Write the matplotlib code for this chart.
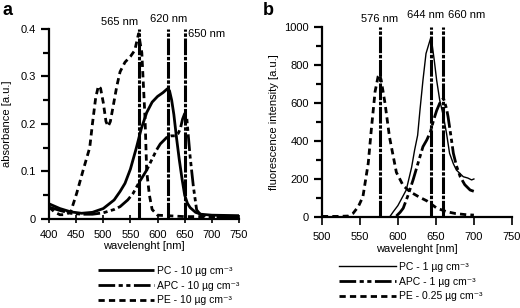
import numpy as np
import matplotlib
matplotlib.use("Agg")
import matplotlib.pyplot as plt
from matplotlib.ticker import MultipleLocator

plt.rcParams["font.family"] = ["Liberation Sans", "DejaVu Sans"]
plt.rcParams["font.size"] = 8
plt.rcParams["lines.scale_dashes"] = False

# =========================
# 数据：吸收光谱 (a)
# =========================
abs_pc_nm = [400, 410, 420, 440, 460, 480, 500, 520, 531, 540, 550, 561, 570, 580, 590,
             600, 610, 618, 622, 626, 630, 635, 640, 645, 650, 655, 660, 670, 680, 700, 750]
abs_pc = [0.032, 0.027, 0.022, 0.015, 0.012, 0.014, 0.022, 0.04, 0.058, 0.075, 0.105, 0.15,
          0.19, 0.224, 0.246, 0.258, 0.266, 0.274, 0.27, 0.25, 0.22, 0.17, 0.125, 0.085,
          0.05, 0.033, 0.024, 0.014, 0.01, 0.008, 0.007]

abs_apc_nm = [400, 420, 440, 460, 480, 500, 520, 531, 545, 555, 565, 580, 592, 598, 605, 612,
              618, 625, 632, 638, 642, 646, 650, 654, 660, 666, 672, 680, 700, 750]
abs_apc = [0.025, 0.018, 0.012, 0.01, 0.01, 0.013, 0.02, 0.026, 0.04, 0.054, 0.075, 0.103,
           0.131, 0.145, 0.158, 0.166, 0.173, 0.175, 0.175, 0.18, 0.19, 0.21, 0.222, 0.21,
           0.131, 0.068, 0.019, 0.008, 0.005, 0.005]

abs_pe_nm = [400, 410, 420, 430, 440, 451, 463, 475, 480, 486, 491, 495, 500, 505, 509, 513,
             518, 525, 531, 540, 550, 558, 562, 565, 568, 571, 574, 577, 580, 585, 590, 600,
             650, 750]
abs_pe = [0.025, 0.015, 0.009, 0.009, 0.015, 0.054, 0.103, 0.15, 0.2, 0.255, 0.28, 0.275,
          0.245, 0.205, 0.195, 0.205, 0.236, 0.28, 0.31, 0.33, 0.342, 0.355, 0.375, 0.39,
          0.37, 0.35, 0.28, 0.21, 0.1, 0.05, 0.02, 0.008, 0.005, 0.005]

abs_peaks = [565, 620, 650]

# =========================
# 数据：荧光光谱 (b)
# =========================
fl_pc_nm = [590, 594, 600, 611, 618, 622, 626, 629, 633, 637, 640, 643, 645, 648, 651, 655,
            660, 664, 668, 673, 677, 686, 692, 697, 700]
fl_pc = [5, 28, 60, 142, 260, 352, 430, 560, 720, 860, 900, 940, 910, 820, 720, 616,
         528, 440, 335, 280, 247, 212, 205, 195, 200]

fl_apc_nm = [598, 603, 607, 613, 620, 627, 633, 638, 643, 647, 651, 655, 660, 664, 666, 670,
             673, 677, 682, 688, 695, 700]
fl_apc = [5, 25, 46, 110, 195, 290, 370, 405, 450, 510, 560, 598, 625, 570, 528, 420,
          335, 270, 212, 170, 142, 135]

fl_pe_nm = [500, 520, 535, 541, 548, 554, 561, 565, 570, 574, 576, 578, 583, 589, 598, 607,
            616, 628, 638, 651, 664, 676, 690, 700]
fl_pe = [3, 3, 5, 19, 55, 107, 283, 458, 660, 740, 750, 720, 600, 420, 235, 165,
         133, 105, 85, 47, 28, 18, 12, 10]

fl_peaks = [576, 644, 660]

unit = " µg cm⁻³"
legend_a = ["PC - 10" + unit, "APC - 10" + unit, "PE - 10" + unit]
legend_b = ["PC - 1" + unit, "APC - 1" + unit, "PE - 0.25" + unit]

# 线型
APC_DASH = (12, 2.5, 3, 2.5, 3, 2.5)
PE_DASH = (4.5, 3)
PEAK_DASH = (12, 1.2, 2.5, 1.2)

fig = plt.figure(figsize=(5.2, 3.08), dpi=100)
ax_a = fig.add_axes([0.0942, 0.289, 0.3654, 0.617])
ax_b = fig.add_axes([0.619, 0.2955, 0.3654, 0.617])


def style_axes(ax, xdir):
    for s in ["top", "right"]:
        ax.spines[s].set_visible(False)
    ax.spines["left"].set_linewidth(1.6)
    ax.spines["bottom"].set_linewidth(1.6)
    ax.tick_params(axis="y", which="major", direction="out", length=6, width=1.6)
    ax.tick_params(axis="y", which="minor", direction="out", length=4, width=1.6)
    ax.tick_params(axis="x", which="major", direction=xdir, length=6, width=1.2)
    ax.tick_params(labelsize=8)
    ax.tick_params(axis="x", pad=5)


def add_legend(ax, x0, y0):
    ax.legend(loc="upper left", bbox_to_anchor=(x0, y0), frameon=False,
              handlelength=5.4, handletextpad=0.3, labelspacing=0.45, borderpad=0,
              fontsize=7.5)


# =========================
# 图 a
# =========================
ax = ax_a
ax.plot(abs_pc_nm, abs_pc, color="black", lw=2, solid_capstyle="butt", label=legend_a[0])
ax.plot(abs_apc_nm, abs_apc, color="black", lw=2, dashes=APC_DASH, label=legend_a[1])
ax.plot(abs_pe_nm, abs_pe, color="black", lw=2, dashes=PE_DASH, label=legend_a[2])
ax.vlines(abs_peaks, 0, 0.4, color="black", lw=2.2, linestyles=[(0, PEAK_DASH)])
ax.set_xlim(400, 750)
ax.set_ylim(0, 0.4)
ax.xaxis.set_major_locator(MultipleLocator(50))
ax.yaxis.set_minor_locator(MultipleLocator(0.05))
ax.set_yticks([0, 0.1, 0.2, 0.3, 0.4], ["0", "0.1", "0.2", "0.3", "0.4"])
style_axes(ax, "inout")
ax.set_xlabel("wavelenght [nm]", labelpad=1)
ax.set_ylabel("absorbance [a.u.]", labelpad=6)
ax.text(565, 0.405, "565 nm", ha="right", va="bottom", fontsize=8)
ax.text(620, 0.41, "620 nm", ha="center", va="bottom", fontsize=8)
ax.text(656, 0.39, "650 nm", ha="left", va="center", fontsize=8)
add_legend(ax, 0.23, -0.22)
fig.text(0.004, 0.995, "a", fontsize=13, fontweight="bold", va="top", ha="left")

# =========================
# 图 b
# =========================
ax = ax_b
ax.plot(fl_pc_nm, fl_pc, color="black", lw=1, label=legend_b[0])
ax.plot(fl_apc_nm, fl_apc, color="black", lw=2, dashes=APC_DASH, label=legend_b[1])
ax.plot(fl_pe_nm, fl_pe, color="black", lw=2, dashes=PE_DASH, label=legend_b[2])
ax.vlines(fl_peaks, 0, 1000, color="black", lw=2.2, linestyles=[(0, PEAK_DASH)])
ax.set_xlim(500, 750)
ax.set_ylim(0, 1000)
ax.xaxis.set_major_locator(MultipleLocator(50))
ax.yaxis.set_major_locator(MultipleLocator(200))
ax.yaxis.set_minor_locator(MultipleLocator(100))
style_axes(ax, "out")
ax.set_xlabel("wavelenght [nm]", labelpad=1)
ax.set_ylabel("fluorescence intensity [a.u.]", labelpad=4)
ax.text(576, 1015, "576 nm", ha="center", va="bottom", fontsize=8)
ax.text(636, 1035, "644 nm", ha="center", va="bottom", fontsize=8)
ax.text(666, 1035, "660 nm", ha="left", va="bottom", fontsize=8)
add_legend(ax, 0.065, -0.21)
fig.text(0.506, 0.995, "b", fontsize=13, fontweight="bold", va="top", ha="left")

fig.savefig("out.png", dpi=100)
